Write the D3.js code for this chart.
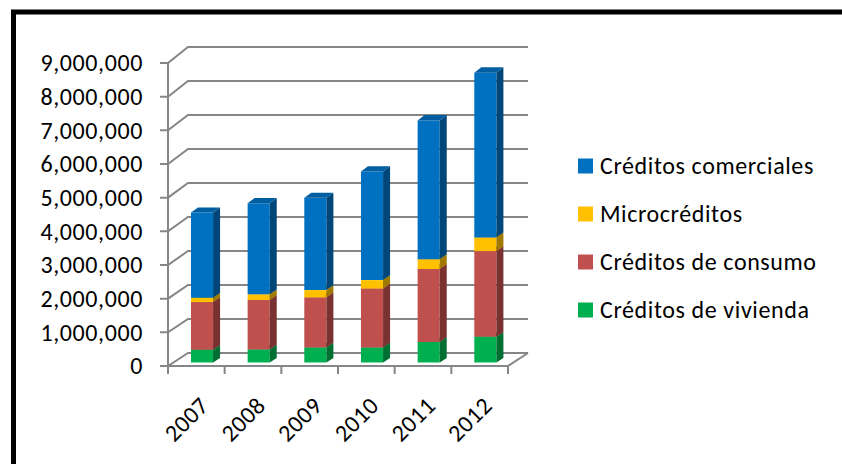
<!DOCTYPE html>
<html>
<head>
<meta charset="utf-8">
<script src="https://cdn.jsdelivr.net/npm/d3@7"></script>
<style>
  body { margin: 0; background: #fff; }
  svg { display: block; font-family: Carlito, Calibri, Lato, sans-serif; }
</style>
</head>
<body>
<svg id="chart" width="842" height="464"></svg>
<script>
// data
var years = ["2007", "2008", "2009", "2010", "2011", "2012"];
var vivienda    = [374000, 386000, 445000, 445000, 610000, 760000];
var consumo     = [1416000, 1464000, 1485000, 1745000, 2160000, 2540000];
var micro       = [130000, 170000, 215000, 250000, 290000, 400000];
var comerciales = [2520000, 2700000, 2735000, 3220000, 4110000, 4880000];
var seriesNames = ["Créditos de vivienda", "Créditos de consumo", "Microcréditos", "Créditos comerciales"];
var seriesColors = ["#00B050", "#C0504D", "#FFC000", "#0070C0"];
var yTicks = [0, 1000000, 2000000, 3000000, 4000000, 5000000, 6000000, 7000000, 8000000, 9000000];

var svg = d3.select("#chart");

// chart border (cut off on the right and bottom like the picture)
svg.append("rect")
    .attr("x", 13.5).attr("y", 12)
    .attr("width", 900).attr("height", 500)
    .style("fill", "none")
    .style("stroke", "black")
    .style("stroke-width", 5);

// front plane and back plane scales, depth goes along DX
var xFront = d3.scaleLinear().domain([0, years.length]).range([168, 508]);
var yFront = d3.scaleLinear().domain([0, 9000000]).range([366, 63]);
var yBack = d3.scaleLinear().domain([0, 9000000]).range([353, 47]);
var DX = 20;

function proj(u, v, z) {
    var yf = yFront(v), yb = yBack(v);
    return [xFront(u) + z * DX, yf + z * (yb - yf)];
}
function pts(list) {
    return list.map(function(p) { return p.join(","); }).join(" ");
}

var grid = svg.append("g")
    .style("stroke", "#868686")
    .style("stroke-width", 2)
    .style("fill", "none");

// back wall lines + left wall diagonals + y ticks
yTicks.forEach(function(t) {
    var a = proj(0, t, 0), b = proj(0, t, 1), c = [528, b[1]];
    grid.append("polyline").attr("points", pts([[160, a[1]], a, b, c]));
});
// front y axis line
grid.append("line")
    .attr("x1", xFront(0)).attr("y1", yFront(0))
    .attr("x2", xFront(0)).attr("y2", yFront(9000000));
// floor front edge and right edge
var fr = proj(years.length, 0, 0), br = proj(years.length, 0, 1);
grid.append("polyline").attr("points", pts([proj(0, 0, 0), fr, br, [528, br[1]]]));
// category ticks
d3.range(years.length + 1).forEach(function(i) {
    grid.append("line")
        .attr("x1", xFront(i)).attr("y1", yFront(0))
        .attr("x2", xFront(i)).attr("y2", yFront(0) + 8);
});

var FS = 24, LS = "0.6px";

// y labels
svg.append("g").selectAll("text")
    .data(yTicks)
    .enter().append("text")
    .attr("x", 143)
    .attr("y", function(d) { return yFront(d); })
    .attr("dy", "0.35em")
    .attr("text-anchor", "end")
    .attr("font-size", FS)
    .attr("letter-spacing", LS)
    .attr("fill", "#000")
    .text(function(d) { return d3.format(",")(d); });

// x labels
svg.append("g").selectAll("text")
    .data(years)
    .enter().append("text")
    .attr("transform", function(d, i) {
        var x = xFront(i + 0.5) + 14, y = 407;
        return "translate(" + x + "," + y + ") rotate(-45)";
    })
    .attr("text-anchor", "end")
    .attr("font-size", FS)
    .attr("letter-spacing", LS)
    .attr("fill", "#000")
    .text(function(d) { return d; });

// stacked 3d bars
var stack = [vivienda, consumo, micro, comerciales];
var u0 = 0.31, u1 = 0.70, z0 = 0.27, z1 = 0.62;
var bars = svg.append("g");
years.forEach(function(y, i) {
    var base = 0;
    stack.forEach(function(s, k) {
        var top = base + s[i];
        var col = d3.color(seriesColors[k]);
        var a = i + u0, b = i + u1;
        // front face
        bars.append("polygon")
            .attr("points", pts([proj(a, base, z0), proj(b, base, z0), proj(b, top, z0), proj(a, top, z0)]))
            .attr("fill", col.formatHex());
        // side face
        bars.append("polygon")
            .attr("points", pts([proj(b, base, z0), proj(b, base, z1), proj(b, top, z1), proj(b, top, z0)]))
            .attr("fill", col.darker(1.3).formatHex());
        // top face
        bars.append("polygon")
            .attr("points", pts([proj(a, top, z0), proj(b, top, z0), proj(b, top, z1), proj(a, top, z1)]))
            .attr("fill", col.darker(0.5).formatHex());
        base = top;
    });
});

// legend (top to bottom: comerciales, micro, consumo, vivienda)
var legendOrder = [3, 2, 1, 0];
var legend = svg.append("g").selectAll("g")
    .data(legendOrder)
    .enter().append("g")
    .attr("transform", function(d, i) { return "translate(578," + (166 + i * 48) + ")"; });
legend.append("rect")
    .attr("x", 0).attr("y", -7.5)
    .attr("width", 15).attr("height", 15)
    .attr("fill", function(d) { return seriesColors[d]; });
legend.append("text")
    .attr("x", 22)
    .attr("dy", "0.35em")
    .attr("font-size", FS)
    .attr("letter-spacing", LS)
    .attr("fill", "#000")
    .text(function(d) { return seriesNames[d]; });
</script>
</body>
</html>
